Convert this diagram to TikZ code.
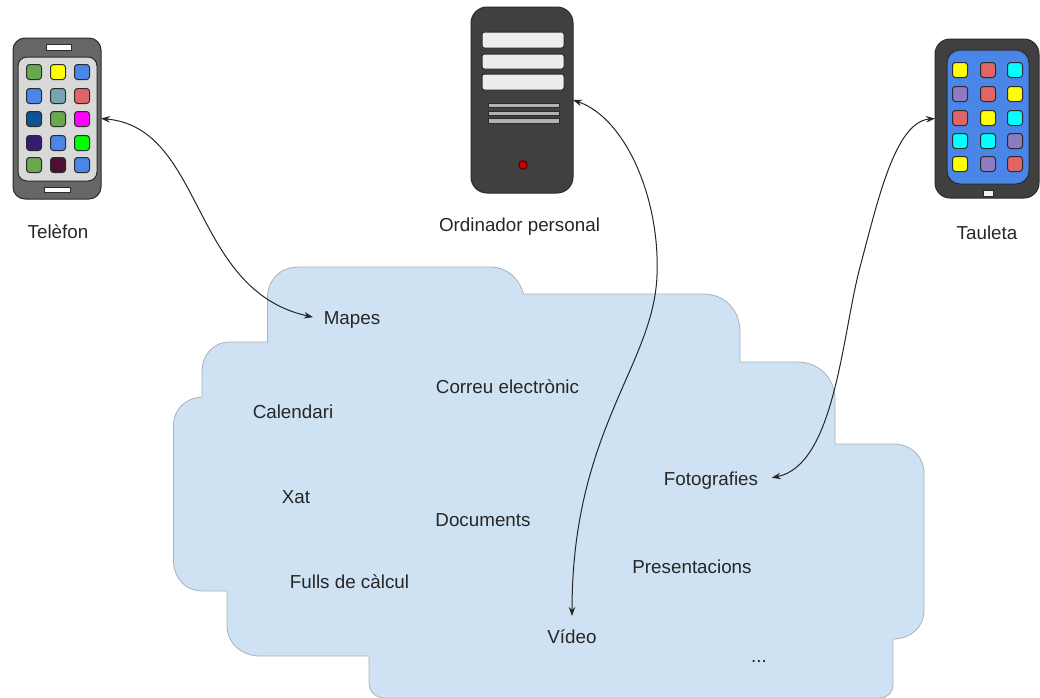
\documentclass[tikz,border=0pt]{standalone}
\usepackage{fontspec}
\setmainfont{Liberation Sans}
\usetikzlibrary{arrows.meta}
\definecolor{cloudfill}{HTML}{CFE2F3}
\definecolor{cloudedge}{HTML}{A9B2BA}
\definecolor{gr}{HTML}{6AA84F}
\definecolor{ye}{HTML}{FFFF00}
\definecolor{bl}{HTML}{4A86E8}
\definecolor{te}{HTML}{76A5AF}
\definecolor{re}{HTML}{E06666}
\definecolor{db}{HTML}{0B5394}
\definecolor{mg}{HTML}{FF00FF}
\definecolor{dp}{HTML}{351C75}
\definecolor{lm}{HTML}{00FF00}
\definecolor{dm}{HTML}{4C1130}
\definecolor{cy}{HTML}{00FFFF}
\definecolor{pu}{HTML}{8E7CC3}
\definecolor{edgedark}{HTML}{2B2B2B}
\tikzset{
  box/.style={draw=edgedark,line width=1pt,inner sep=0pt,outer sep=0pt},
  appicon/.style={box,rounded corners=3pt,minimum width=15pt,minimum height=15pt},
  label/.style={inner sep=0pt,outer sep=0pt,text=black!85,font=\fontsize{18.8}{22}\selectfont,anchor=center},
  link/.style={draw=black!85,line width=1pt},
  bothtips/.style={{Stealth[length=9pt,width=6.5pt]}-{Stealth[length=9pt,width=6.5pt]}}
}
\begin{document}
\begin{tikzpicture}[x=1pt,y=-1pt]
\useasboundingbox (0,0) rectangle (1040,697);
\clip (0,0) rectangle (1040,697);
% cloud
\draw[fill=cloudfill,draw=cloudedge,line width=0.8pt]
 (267.5,298) .. controls (267.5,280) and (280,267) .. (298,267)
 -- (490,267) .. controls (507,267) and (519,278) .. (523.5,294)
 -- (703,294) .. controls (725,294) and (740,310) .. (740,332)
 -- (740,362) -- (797,362) .. controls (819,362) and (835,378) .. (835,400)
 -- (835,444) -- (893,444) .. controls (911,444) and (924,456) .. (924,474)
 -- (924,610) .. controls (924,627) and (911,639) .. (893,639)
 -- (893,684) .. controls (893,692) and (888,698) .. (880,698)
 -- (385,698) .. controls (376,698) and (369,692) .. (369,683)
 -- (369,656) -- (260,656) .. controls (241,656) and (227,643) .. (227,625)
 -- (227,591) -- (203,591) .. controls (185,591) and (173.5,578) .. (173.5,560)
 -- (173.5,425) .. controls (173.5,410) and (185,398) .. (202,397)
 -- (202,372) .. controls (202,355) and (213,342) .. (230,342)
 -- (267.5,342) -- cycle;
% phone
\node[box,fill=black!60,rounded corners=12pt,minimum width=88pt,minimum height=161pt] (phone) at (57,118.5) {};
\node[box,fill=black!15,rounded corners=9pt,minimum width=79pt,minimum height=124pt] (phonescreen) at (57.5,119) {};
\node[box,fill=white,minimum width=25pt,minimum height=6pt] (phonetop) at (58.5,47) {};
\node[box,fill=white,minimum width=26pt,minimum height=5pt] (phonebottom) at (57.5,189.5) {};
\foreach \cx/\cy/\cc [count=\i] in {
 34/72/gr,58/72/ye,82/72/bl,
 34/96/bl,58/96/te,82/96/re,
 34/119/db,58/119/gr,82/119/mg,
 34/143/dp,58/143/bl,82/143/lm,
 34/165/gr,58/165/dm,82/165/bl}
  \node[appicon,fill=\cc] (phoneicon\i) at (\cx,\cy) {};
% desktop
\node[box,fill=black!75,rounded corners=16pt,minimum width=102pt,minimum height=186pt] (pc) at (522,100) {};
\foreach \by/\bh [count=\i] in {40/16,61.5/15,82/16}
  \node[box,fill=black!7,rounded corners=2.5pt,minimum width=82pt,minimum height=\bh pt] (bay\i) at (523,\by) {};
\foreach \by/\bh [count=\i] in {105.5/4,113.5/3.5,121/4.5}
  \node[box,fill=black!30,minimum width=71pt,minimum height=\bh pt] (vent\i) at (523.5,\by) {};
\node[draw=black!70!red,line width=1pt,fill=red!80!black,circle,minimum size=8.5pt,inner sep=0pt] (led) at (523,165) {};
% tablet
\node[box,fill=black!75,rounded corners=15pt,minimum width=104pt,minimum height=159pt] (tablet) at (987,118.5) {};
\node[box,fill=bl,rounded corners=13pt,minimum width=82pt,minimum height=134pt] (tabletscreen) at (988,117) {};
\node[box,fill=black!5,minimum width=10pt,minimum height=6pt] (tabletbutton) at (988,193) {};
\foreach \cx/\cy/\cc [count=\i] in {
 960/70/ye,988/70/re,1015/70/cy,
 960/94/pu,988/94/re,1015/94/ye,
 960/118/re,988/118/ye,1015/118/cy,
 960/141/cy,988/141/cy,1015/141/pu,
 960/164/ye,988/164/pu,1015/164/re}
  \node[appicon,fill=\cc] (tableticon\i) at (\cx,\cy) {};
% labels
\node[label] (ltel) at (58,232) {Telèfon};
\node[label] (lord) at (519.5,226.5) {Ordinador personal};
\node[label] (ltau) at (987,233) {Tauleta};
\node[label] (mapes) at (352,319.5) {Mapes};
\node[label] (correu) at (507.5,387) {Correu electrònic};
\node[label] (cal) at (293,412) {Calendari};
\node[label] (xat) at (296,497) {Xat};
\node[label] (docs) at (483,520) {Documents};
\node[label] (foto) at (711,480.5) {Fotografies};
\node[label] (fulls) at (349.5,582) {Fulls de càlcul};
\node[label] (pres) at (692,567) {Presentacions};
\node[label] (video) at (572,637) {Vídeo};
\node[label] (dots) at (759,661) {...};
% connectors
\coordinate (pcmid) at (657,275);
\coordinate (tabmid) at (860,267);
\draw[link,bothtips,shorten >=11pt] (phone.east) .. controls (205,128) and (190,290) .. (mapes.west);
\draw[link,bothtips,shorten >=14pt] (pc.east) .. controls (625,118) and (660,197) .. (pcmid)
   .. controls (654,365) and (572,430) .. (video.north);
\draw[link,bothtips,shorten >=14pt] (tablet.west) .. controls (895,122) and (878,200) .. (tabmid)
   .. controls (842,335) and (835,465) .. (foto.east);
\end{tikzpicture}
\end{document}
